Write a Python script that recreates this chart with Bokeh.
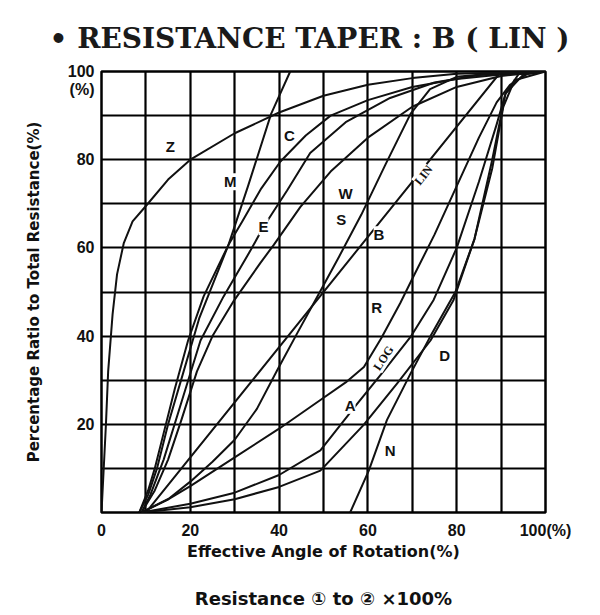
from bokeh.plotting import figure
from bokeh.models import FixedTicker, Range1d, LinearAxis
from bokeh.embed import file_html
from bokeh.resources import INLINE
from bokeh.core.properties import value

# ---- axis ticks / labels ----
x_ticks = [0, 20, 40, 60, 80, 100]
x_tick_labels = {0: "0", 20: "20", 40: "40", 60: "60", 80: "80", 100: "100(%)"}
y_ticks = [20, 40, 60, 80, 96, 100]
y_tick_labels = {20: "20", 40: "40", 60: "60", 80: "80", 96: "(%)", 100: "100"}
grid_ticks = [10, 20, 30, 40, 50, 60, 70, 80, 90]

# ---- taper curves (rotation %, resistance %) ----
z_x = [0, 1, 1.5, 2.5, 3.5, 5, 7, 10, 15, 20, 30, 40, 50, 60, 70, 80, 90, 100]
z_y = [0, 20, 32, 45, 54, 61, 66, 69.5, 75.5, 80, 86, 90.7, 94.5, 97, 98.5, 99.5, 99.8, 100]

m_x = [8.5, 10.5, 12, 14, 16.5, 19.5, 23, 28.6, 33, 38.2, 42.5]
m_y = [0, 5, 10, 18, 28, 39, 49, 60.7, 74, 90.4, 100]

c_x = [8.5, 10.5, 12.5, 15, 18.5, 22, 28.6, 31.7, 36, 40.3, 46, 51.6, 60, 70, 80, 90, 100]
c_y = [0, 4, 10, 20, 32, 44, 60.7, 66, 73.5, 79.6, 85.5, 90, 93.5, 96.5, 98.3, 99.3, 100]

e_x = [9, 11, 14, 18, 22.3, 27.5, 33.6, 36.5, 41.8, 47, 55, 65, 75, 85, 100]
e_y = [0, 4, 12, 25, 39, 49, 59.5, 64.8, 73, 81.5, 88.5, 94, 97.5, 99.2, 100]

w_x = [9, 15, 20, 25, 30, 35, 39.6, 44, 48.9, 53.5, 58.5, 64, 69.6, 74, 80, 90, 100]
w_y = [0, 3, 7, 11.5, 16.5, 23.5, 32.3, 40.5, 49.5, 58, 67.5, 79, 90.4, 96, 98.8, 99.7, 100]

s_x = [9, 12, 15, 18, 21.5, 25, 29.8, 35.8, 38.8, 44.8, 51.6, 60, 70, 80, 90, 100]
s_y = [0, 5, 12, 21, 32, 40, 48, 56.6, 60.7, 69.3, 77.3, 85, 92, 96.5, 99, 100]

b_x = [10, 90, 100]
b_y = [0, 100, 100]

r_x = [9, 15, 20, 30, 40, 49.3, 55, 59.1, 63, 67.3, 70, 75, 80, 85, 89, 92, 96, 100]
r_y = [0, 3, 6, 12.5, 19, 25.5, 29.5, 33, 39.5, 47.5, 53, 63, 74, 85, 93, 97, 99.5, 100]

a_x = [9, 20, 30, 40, 49.3, 57.3, 63.5, 69.6, 74.8, 80, 85, 89, 91, 95, 100]
a_y = [0, 2, 4.5, 8.5, 14.1, 24.3, 32, 39.8, 48.2, 60, 75, 88, 95, 99.3, 100]

d_x = [9, 20, 30, 40, 49.3, 59, 66.6, 74.1, 79.3, 84, 88, 91, 94, 100]
d_y = [0, 1.2, 3, 5.8, 9.5, 19.8, 29.3, 39, 48.2, 62, 80, 95, 99.5, 100]

n_x = [56, 60.2, 64.3, 69.6, 74.1, 79.7, 84, 88, 90.5, 93, 100]
n_y = [0, 9.5, 21, 31.5, 40, 50, 62, 78, 92, 98, 100]

curves = [(z_x, z_y), (m_x, m_y), (c_x, c_y), (e_x, e_y), (w_x, w_y), (s_x, s_y),
          (b_x, b_y), (r_x, r_y), (a_x, a_y), (d_x, d_y), (n_x, n_y)]

# ---- curve labels ----
lab_text = ["Z", "M", "C", "E", "W", "S", "B", "R", "A", "D", "N"]
lab_x = [15.5, 29, 42.3, 36.5, 55, 54, 62.5, 62, 56, 77.3, 65]
lab_y = [83, 75, 85.5, 64.8, 72.4, 66.4, 63, 46.5, 24.3, 35.5, 14]
rot_text = ["LIN", "LOG"]
rot_x = [72.5, 63.5]
rot_y = [76.5, 35]
rot_angle = [0.9, 1.0]

p = figure(width=600, height=615, x_range=Range1d(0, 100), y_range=Range1d(0, 100),
           output_backend="svg", toolbar_location=None,
           min_border_left=101, min_border_right=55, min_border_top=71, min_border_bottom=103)

p.title.text = "\u2022 RESISTANCE  TAPER : B ( LIN )"
p.title.text_font = "DejaVu Serif"
p.title.text_font_size = "28px"
p.title.text_font_style = "bold"
p.title.align = "left"
p.title.offset = -52
p.title.standoff = 34
p.title.text_color = "#1a1a1a"

p.outline_line_color = "black"
p.outline_line_width = 2.5
p.outline_line_alpha = 1

for g in (p.xgrid, p.ygrid):
    g.ticker = FixedTicker(ticks=grid_ticks)
    g.grid_line_color = "black"
    g.grid_line_width = 2.2
    g.grid_line_alpha = 1

p.xaxis.ticker = FixedTicker(ticks=x_ticks)
p.xaxis.major_label_overrides = x_tick_labels
p.yaxis.ticker = FixedTicker(ticks=y_ticks)
p.yaxis.major_label_overrides = y_tick_labels
for ax in (p.xaxis, p.yaxis):
    ax.axis_line_color = None
    ax.major_tick_line_color = None
    ax.minor_tick_line_color = None
    ax.major_tick_out = 0
    ax.major_label_text_font = "Liberation Sans"
    ax.major_label_text_font_style = "bold"
    ax.major_label_text_font_size = "16px"
    ax.major_label_text_color = "#111111"
    ax.axis_label_text_font = "DejaVu Sans"
    ax.axis_label_text_font_style = "bold"
    ax.axis_label_text_font_size = "15px"
    ax.axis_label_text_color = "#111111"

p.xaxis.major_label_standoff = 9
p.yaxis.major_label_standoff = 7
p.xaxis.axis_label = "Effective Angle of Rotation(%)"
p.xaxis.axis_label_text_font_size = "16px"
p.xaxis.axis_label_standoff = 0
p.yaxis.axis_label = "Percentage Ratio to Total Resistance(%)"
p.yaxis.axis_label_standoff = 22

# bottom caption carried by a tick-less second axis
note_axis = LinearAxis(ticker=FixedTicker(ticks=[]), axis_line_color=None,
                       major_tick_line_color=None, minor_tick_line_color=None,
                       major_tick_out=0, minor_tick_out=0, major_label_standoff=0,
                       axis_label="Resistance \u2460 to \u2461 \u00d7100%",
                       axis_label_standoff=24,
                       axis_label_text_font="DejaVu Sans",
                       axis_label_text_font_style="bold",
                       axis_label_text_font_size="18px",
                       axis_label_text_color="#111111")
p.add_layout(note_axis, "below")

for cx, cy in curves:
    p.line(cx, cy, line_color="#111111", line_width=2, line_join="round")

p.text(x=lab_x, y=lab_y, text=lab_text, text_align="center", text_baseline="middle",
       text_font=value("Liberation Sans"), text_font_style="bold",
       text_font_size="15px", text_color="#111111",
       background_fill_color="white")
p.text(x=rot_x, y=rot_y, text=rot_text, angle=rot_angle, text_align="center",
       text_baseline="middle", text_font=value("Liberation Serif"),
       text_font_style="bold", text_font_size="12px", text_color="#111111",
       background_fill_color="white")

open("out.html", "w").write(file_html(p, INLINE))
